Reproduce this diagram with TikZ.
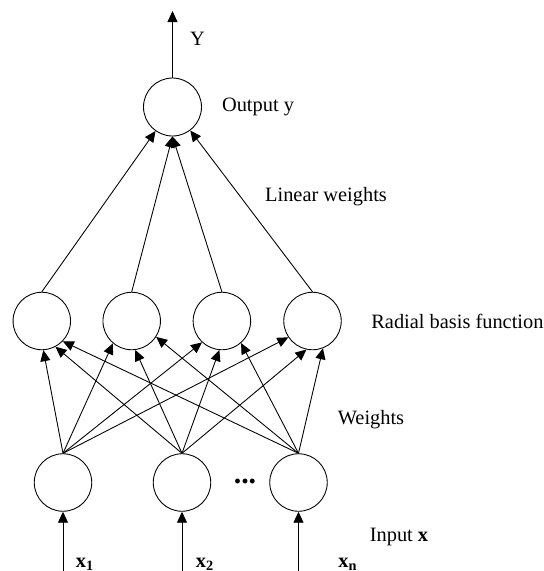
\documentclass[tikz,border=0pt]{standalone}
\usepackage{fontspec}
\setmainfont{Liberation Serif}
\usetikzlibrary{arrows.meta}
\tikzset{
  neuron/.style={draw, circle, minimum size=1.15cm, inner sep=0pt, line width=0.5pt},
  lbl/.style={draw=none, fill=none, inner sep=0pt},
  arr/.style={line width=0.5pt, -{Triangle[length=2.2mm, width=2mm]}}
}
\begin{document}
\begin{tikzpicture}[font=\fontsize{11.6}{14}\selectfont]
\useasboundingbox (0,0) rectangle (10.88,-11.42);
% output layer
\node[neuron, minimum size=1.16cm] (out) at (3.45,-2.14) {};
\coordinate (ytop) at (3.45,-0.22);
\draw[arr] (out.north) -- (ytop);
\node[lbl] at (3.95,-0.77) {Y};
\node[lbl] at (5.16,-2.14) {Output y};
% hidden layer
\node[neuron] (rbf1) at (0.836,-6.42) {};
\node[neuron] (rbf2) at (2.634,-6.42) {};
\node[neuron] (rbf3) at (4.438,-6.42) {};
\node[neuron] (rbf4) at (6.25,-6.42) {};
\node[lbl, anchor=west] at (7.42,-6.42) {Radial basis function};
\node[lbl] at (6.52,-3.94) {Linear weights};
\draw[arr] (rbf1.north) -- (out);
\draw[arr] (rbf2.north) -- (out.south);
\draw[arr] (rbf3.north) -- (out.south);
\draw[arr] (rbf4.north) -- (out);
% input layer
\node[neuron] (in1) at (1.26,-9.65) {};
\node[neuron] (in2) at (3.64,-9.65) {};
\node[neuron] (in3) at (5.97,-9.65) {};
\node[lbl, anchor=base] (dots) at (4.9,-9.66) {\fontsize{17}{17}\selectfont\textbf{...}};
\node[lbl] at (7.42,-8.4) {Weights};
\node[lbl] at (7.98,-10.74) {Input \textbf{x}};
\draw[arr] (in1.north) -- (rbf1.-87);
\draw[arr] (in2.north) -- (rbf1.-62);
\draw[arr] (in3.north) -- (rbf1.-44);
\draw[arr] (in1.north) -- (rbf2.-130);
\draw[arr] (in2.north) -- (rbf2.-83);
\draw[arr] (in3.north) -- (rbf2.-33);
\draw[arr] (in1.north) -- (rbf3.-133);
\draw[arr] (in2.north) -- (rbf3.-95);
\draw[arr] (in3.north) -- (rbf3.-49);
\draw[arr] (in1.north) -- (rbf4.-146);
\draw[arr] (in2.north) -- (rbf4.-102);
\draw[arr] (in3.north) -- (rbf4.-69);
% inputs
\coordinate (x1) at (1.26,-11.42);
\coordinate (x2) at (3.64,-11.42);
\coordinate (xn) at (5.97,-11.42);
\draw[arr] (x1) -- (in1.south);
\draw[arr] (x2) -- (in2.south);
\draw[arr] (xn) -- (in3.south);
\node[lbl] at (1.7,-11.28) {\textbf{x}\textsubscript{\textbf{1}}};
\node[lbl] at (4.1,-11.28) {\textbf{x}\textsubscript{\textbf{2}}};
\node[lbl] at (6.96,-11.28) {\textbf{x}\textsubscript{\textbf{n}}};
\end{tikzpicture}
\end{document}
